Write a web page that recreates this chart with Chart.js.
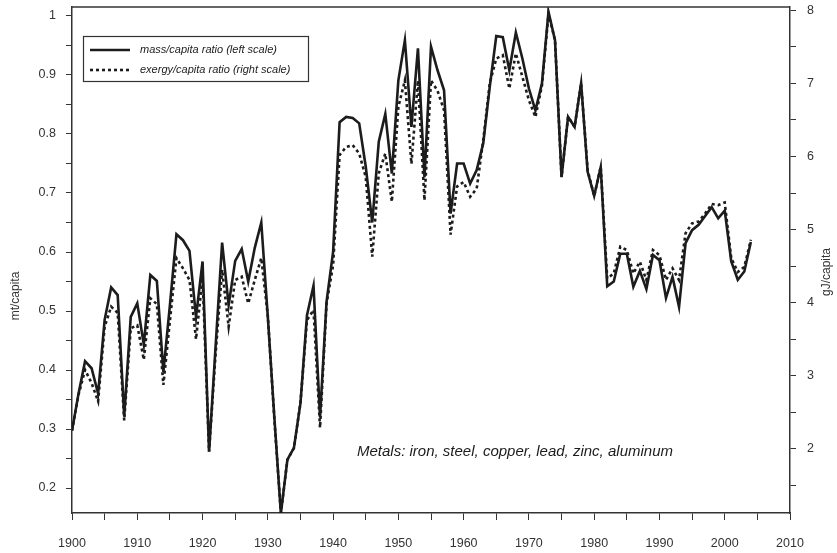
<!DOCTYPE html>
<html>
<head>
<meta charset="utf-8">
<script src="https://cdn.jsdelivr.net/npm/chart.js@4.4.1/dist/chart.umd.min.js"></script>
<style>
  html, body { margin: 0; padding: 0; background: #fff; }
  #c { display: block; }
</style>
</head>
<body>
<canvas id="c" width="837" height="553"></canvas>
<script>
const years = [
  1900,1901,1902,1903,1904,1905,1906,1907,1908,1909,
  1910,1911,1912,1913,1914,1915,1916,1917,1918,1919,
  1920,1921,1922,1923,1924,1925,1926,1927,1928,1929,
  1930,1931,1932,1933,1934,1935,1936,1937,1938,1939,
  1940,1941,1942,1943,1944,1945,1946,1947,1948,1949,
  1950,1951,1952,1953,1954,1955,1956,1957,1958,1959,
  1960,1961,1962,1963,1964,1965,1966,1967,1968,1969,
  1970,1971,1972,1973,1974,1975,1976,1977,1978,1979,
  1980,1981,1982,1983,1984,1985,1986,1987,1988,1989,
  1990,1991,1992,1993,1994,1995,1996,1997,1998,1999,
  2000,2001,2002,2003,2004
];

// mass/capita ratio, mt/capita (left scale)
const massPerCapita = [
  0.297,0.360,0.415,0.403,0.360,0.485,0.540,0.527,0.322,0.490,
  0.513,0.443,0.561,0.551,0.397,0.510,0.630,0.620,0.602,0.490,
  0.584,0.262,0.440,0.616,0.510,0.585,0.605,0.550,0.607,0.650,
  0.490,0.320,0.157,0.248,0.268,0.344,0.493,0.543,0.320,0.516,
  0.600,0.820,0.829,0.827,0.818,0.745,0.650,0.787,0.834,0.733,
  0.891,0.959,0.812,0.945,0.727,0.948,0.908,0.874,0.665,0.750,
  0.750,0.716,0.739,0.784,0.880,0.966,0.964,0.908,0.972,0.928,
  0.877,0.840,0.886,1.007,0.959,0.727,0.829,0.812,0.886,0.736,
  0.695,0.744,0.542,0.550,0.597,0.597,0.541,0.568,0.537,0.595,
  0.586,0.522,0.558,0.507,0.615,0.637,0.646,0.661,0.676,0.657,
  0.670,0.584,0.553,0.567,0.617
];

// exergy/capita ratio, gJ/capita (right scale)
const exergyPerCapita = [
  2.25,2.74,3.08,2.90,2.65,3.67,3.945,3.86,2.39,3.65,
  3.69,3.22,4.06,3.98,2.875,3.75,4.61,4.47,4.31,3.50,
  4.35,1.96,3.30,4.45,3.67,4.31,4.355,3.99,4.31,4.61,
  3.82,2.41,1.12,1.85,2.01,2.63,3.76,3.90,2.29,3.99,
  4.51,6.02,6.13,6.155,6.04,5.72,4.63,5.77,6.04,5.38,
  6.68,7.04,5.90,7.04,5.40,7.04,6.90,6.63,4.93,5.59,
  5.65,5.45,5.56,6.22,7.00,7.34,7.385,6.93,7.41,7.09,
  6.77,6.54,6.97,7.95,7.59,5.72,6.54,6.405,7.00,5.81,
  5.46,5.86,4.33,4.40,4.765,4.72,4.40,4.56,4.31,4.72,
  4.65,4.31,4.47,4.31,4.95,5.085,5.11,5.22,5.35,5.335,
  5.37,4.61,4.42,4.49,4.86
];

const xTicks = [1900,1905,1910,1915,1920,1925,1930,1935,1940,1945,1950,1955,1960,1965,1970,1975,1980,1985,1990,1995,2000,2005,2010];
const leftTicks = [0.2,0.25,0.3,0.35,0.4,0.45,0.5,0.55,0.6,0.65,0.7,0.75,0.8,0.85,0.9,0.95,1.0];
const rightTicks = [1.5,2,2.5,3,3.5,4,4.5,5,5.5,6,6.5,7,7.5,8];

const legendLabels = ['mass/capita ratio (left scale)', 'exergy/capita ratio (right scale)'];
const noteText = 'Metals: iron, steel, copper, lead, zinc, aluminum';
const leftTitle = 'mt/capita';
const rightTitle = 'gJ/capita';

const FONT = '"Liberation Sans", Arial, Helvetica, sans-serif';
const AXIS = '#333333';
const INK = '#1c1c1c';

const massData = years.map((y, i) => ({ x: y, y: massPerCapita[i] }));
const exergyData = years.map((y, i) => ({ x: y, y: exergyPerCapita[i] }));

function zeroPad(s) { s.paddingTop = 0; s.paddingBottom = 0; s.paddingLeft = 0; s.paddingRight = 0; }

const decor = {
  id: 'decor',
  afterDraw(chart) {
    const ctx = chart.ctx;
    const a = chart.chartArea;
    ctx.save();
    ctx.strokeStyle = AXIS;
    ctx.lineWidth = 1.5;
    ctx.beginPath();
    ctx.moveTo(a.left, a.top);
    ctx.lineTo(a.right, a.top);
    ctx.stroke();

    ctx.lineWidth = 1.2;
    ctx.strokeStyle = AXIS;
    ctx.strokeRect(83.5, 36.5, 225, 45);
    ctx.strokeStyle = INK;
    ctx.lineWidth = 2.6;
    ctx.beginPath();
    ctx.moveTo(90, 50); ctx.lineTo(130, 50);
    ctx.stroke();
    ctx.setLineDash([3, 3]);
    ctx.beginPath();
    ctx.moveTo(90, 70); ctx.lineTo(130, 70);
    ctx.stroke();
    ctx.setLineDash([]);
    ctx.fillStyle = INK;
    ctx.font = 'italic 11px ' + FONT;
    ctx.textAlign = 'left';
    ctx.textBaseline = 'middle';
    ctx.fillText(legendLabels[0], 140, 50);
    ctx.fillText(legendLabels[1], 140, 70);

    ctx.font = 'italic 15px ' + FONT;
    ctx.fillText(noteText, 357, 452);

    ctx.fillStyle = AXIS;
    ctx.font = '12px ' + FONT;
    ctx.textAlign = 'center';
    ctx.save();
    ctx.translate(16, 296);
    ctx.rotate(-Math.PI / 2);
    ctx.fillText(leftTitle, 0, 0);
    ctx.restore();
    ctx.save();
    ctx.translate(827, 272);
    ctx.rotate(-Math.PI / 2);
    ctx.fillText(rightTitle, 0, 0);
    ctx.restore();
    ctx.restore();
  }
};

new Chart(document.getElementById('c'), {
  type: 'line',
  data: {
    datasets: [
      {
        label: legendLabels[0],
        data: massData,
        yAxisID: 'y',
        borderColor: INK,
        borderWidth: 2.6,
        pointRadius: 0,
        tension: 0,
        fill: false
      },
      {
        label: legendLabels[1],
        data: exergyData,
        yAxisID: 'y1',
        borderColor: INK,
        borderWidth: 2.6,
        borderDash: [3, 3],
        pointRadius: 0,
        tension: 0,
        fill: false
      }
    ]
  },
  options: {
    responsive: false,
    animation: false,
    devicePixelRatio: 1,
    layout: { padding: { top: 7, left: 0, right: 0, bottom: 0 } },
    plugins: {
      legend: { display: false },
      tooltip: { enabled: false }
    },
    scales: {
      x: {
        type: 'linear',
        min: 1900,
        max: 2010,
        afterFit(s) { s.height = 40; zeroPad(s); },
        afterBuildTicks(s) { s.ticks = xTicks.map(v => ({ value: v })); },
        border: { display: true, color: AXIS, width: 1.5 },
        grid: { drawOnChartArea: false, drawTicks: true, tickLength: 7, color: AXIS, lineWidth: 1 },
        ticks: {
          autoSkip: false,
          maxRotation: 0,
          padding: 16,
          color: AXIS,
          font: { family: FONT, size: 12.5 },
          callback: v => (v % 10 === 0 ? String(v) : '')
        }
      },
      y: {
        type: 'linear',
        position: 'left',
        min: 0.1577,
        max: 1.0152,
        afterFit(s) { s.width = 72; zeroPad(s); },
        afterBuildTicks(s) { s.ticks = leftTicks.map(v => ({ value: v })); },
        border: { display: true, color: AXIS, width: 1.5 },
        grid: { drawOnChartArea: false, drawTicks: true, tickLength: 6, color: AXIS, lineWidth: 1 },
        ticks: {
          autoSkip: false,
          padding: 10,
          color: AXIS,
          font: { family: FONT, size: 12.5 },
          callback: v => {
            const r = Math.round(v * 10);
            return Math.abs(v * 10 - r) < 1e-6 ? String(r / 10) : '';
          }
        }
      },
      y1: {
        type: 'linear',
        position: 'right',
        min: 1.122,
        max: 8.045,
        afterFit(s) { s.width = 47; zeroPad(s); },
        afterBuildTicks(s) { s.ticks = rightTicks.map(v => ({ value: v })); },
        border: { display: true, color: AXIS, width: 1.5 },
        grid: { drawOnChartArea: false, drawTicks: true, tickLength: 6, color: AXIS, lineWidth: 1 },
        ticks: {
          autoSkip: false,
          padding: 11,
          color: AXIS,
          font: { family: FONT, size: 12.5 },
          callback: v => (Number.isInteger(v) ? String(v) : '')
        }
      }
    }
  },
  plugins: [decor]
});
</script>
</body>
</html>
